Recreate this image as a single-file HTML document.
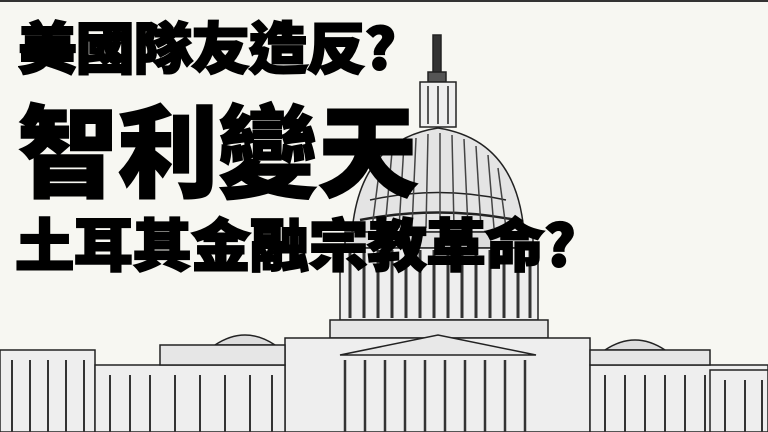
<!DOCTYPE html>
<html><head><meta charset="utf-8"><style>
html,body{margin:0;padding:0}
body{width:768px;height:432px;overflow:hidden;background:#f7f7f2;position:relative;font-family:"Liberation Sans","Noto Sans CJK TC",sans-serif}
svg{position:absolute;left:0;top:0}
.t{position:absolute;font-family:"Noto Sans CJK TC","WenQuanYi Zen Hei",sans-serif;font-weight:900;color:#000;white-space:nowrap;line-height:1;-webkit-text-stroke:2px #000;transform-origin:0 0}
</style></head><body>
<div style="position:absolute;left:0;top:0;width:768px;height:2px;background:#333"></div>
<svg width="768" height="432" stroke="#222" fill="none" stroke-width="1.5">
 <g>
  <rect x="433" y="35" width="8" height="40" fill="#333"/>
  <rect x="428" y="72" width="18" height="10" fill="#555"/>
 </g>
 <g>
  <rect x="420" y="82" width="36" height="45" fill="#eee"/>
  <line x1="428" y1="86" x2="428" y2="124"/><line x1="438" y1="86" x2="438" y2="124"/><line x1="448" y1="86" x2="448" y2="124"/>
 </g>
 <g>
  <path d="M352 232 Q360 140 438 128 Q516 140 524 232 Z" fill="#e4e4e4"/>
  <path d="M370 200 Q438 185 506 200"/>
  <path d="M360 220 Q438 205 516 220" stroke-width="2.5"/>
  <g stroke="#444" stroke-width="1.5">
   <line x1="380" y1="165" x2="372" y2="228"/><line x1="392" y1="152" x2="385" y2="228"/><line x1="404" y1="144" x2="399" y2="228"/>
   <line x1="416" y1="138" x2="412" y2="228"/><line x1="428" y1="134" x2="426" y2="228"/><line x1="440" y1="133" x2="440" y2="228"/>
   <line x1="452" y1="135" x2="454" y2="228"/><line x1="464" y1="139" x2="468" y2="228"/><line x1="476" y1="146" x2="481" y2="228"/>
   <line x1="488" y1="155" x2="494" y2="228"/><line x1="498" y1="168" x2="506" y2="228"/>
  </g>
 </g>
 <g>
  <rect x="345" y="232" width="188" height="16" fill="#ddd"/>
  <rect x="340" y="248" width="198" height="72" fill="#eee"/>
  <g stroke="#333" stroke-width="3">
   <line x1="350" y1="250" x2="350" y2="318"/><line x1="364" y1="250" x2="364" y2="318"/><line x1="378" y1="250" x2="378" y2="318"/>
   <line x1="392" y1="250" x2="392" y2="318"/><line x1="406" y1="250" x2="406" y2="318"/><line x1="420" y1="250" x2="420" y2="318"/>
   <line x1="434" y1="250" x2="434" y2="318"/><line x1="448" y1="250" x2="448" y2="318"/><line x1="462" y1="250" x2="462" y2="318"/>
   <line x1="476" y1="250" x2="476" y2="318"/><line x1="490" y1="250" x2="490" y2="318"/><line x1="504" y1="250" x2="504" y2="318"/>
   <line x1="518" y1="250" x2="518" y2="318"/><line x1="530" y1="250" x2="530" y2="318"/>
  </g>
  <rect x="330" y="320" width="218" height="18" fill="#e6e6e6"/>
 </g>
 <g>
  <rect x="285" y="338" width="305" height="94" fill="#eee"/>
  <path d="M340 355 L438 335 L536 355 Z" fill="#e8e8e8"/>
  <g stroke="#333" stroke-width="2.5">
   <line x1="345" y1="360" x2="345" y2="432"/><line x1="365" y1="360" x2="365" y2="432"/><line x1="385" y1="360" x2="385" y2="432"/>
   <line x1="405" y1="360" x2="405" y2="432"/><line x1="425" y1="360" x2="425" y2="432"/><line x1="445" y1="360" x2="445" y2="432"/>
   <line x1="465" y1="360" x2="465" y2="432"/><line x1="485" y1="360" x2="485" y2="432"/><line x1="505" y1="360" x2="505" y2="432"/>
   <line x1="525" y1="360" x2="525" y2="432"/>
  </g>
 </g>
 <g>
  <rect x="0" y="350" width="95" height="82" fill="#eee"/>
  <rect x="95" y="365" width="190" height="67" fill="#eee"/>
  <path d="M215 345 Q245 325 275 345 Z" fill="#ddd"/>
  <rect x="160" y="345" width="125" height="20" fill="#e6e6e6"/>
  <g stroke="#333" stroke-width="2">
   <line x1="12" y1="360" x2="12" y2="432"/><line x1="30" y1="360" x2="30" y2="432"/><line x1="48" y1="360" x2="48" y2="432"/><line x1="66" y1="360" x2="66" y2="432"/><line x1="84" y1="360" x2="84" y2="432"/>
   <line x1="110" y1="375" x2="110" y2="432"/><line x1="130" y1="375" x2="130" y2="432"/><line x1="150" y1="375" x2="150" y2="432"/><line x1="175" y1="375" x2="175" y2="432"/>
   <line x1="200" y1="375" x2="200" y2="432"/><line x1="225" y1="375" x2="225" y2="432"/><line x1="250" y1="375" x2="250" y2="432"/><line x1="272" y1="375" x2="272" y2="432"/>
  </g>
 </g>
 <g>
  <rect x="590" y="365" width="178" height="67" fill="#eee"/>
  <path d="M605 350 Q635 330 665 350 Z" fill="#ddd"/>
  <rect x="590" y="350" width="120" height="15" fill="#e6e6e6"/>
  <rect x="710" y="370" width="58" height="62" fill="#eee"/>
  <g stroke="#333" stroke-width="2">
   <line x1="605" y1="375" x2="605" y2="432"/><line x1="625" y1="375" x2="625" y2="432"/><line x1="645" y1="375" x2="645" y2="432"/><line x1="665" y1="375" x2="665" y2="432"/>
   <line x1="685" y1="375" x2="685" y2="432"/><line x1="705" y1="375" x2="705" y2="432"/><line x1="725" y1="380" x2="725" y2="432"/><line x1="745" y1="380" x2="745" y2="432"/><line x1="762" y1="380" x2="762" y2="432"/>
  </g>
 </g>
</svg>
<div class="t" style="left:18px;top:18px;font-size:56px;letter-spacing:-1px;transform:scaleX(1.05)">美國隊友造反?</div>
<div class="t" style="left:18px;top:96px;font-size:100px">智利變天</div>
<div class="t" style="left:15px;top:214px;font-size:57px;letter-spacing:-0.5px;transform:scaleX(1.04)">土耳其金融宗教革命?</div>
</body></html>
